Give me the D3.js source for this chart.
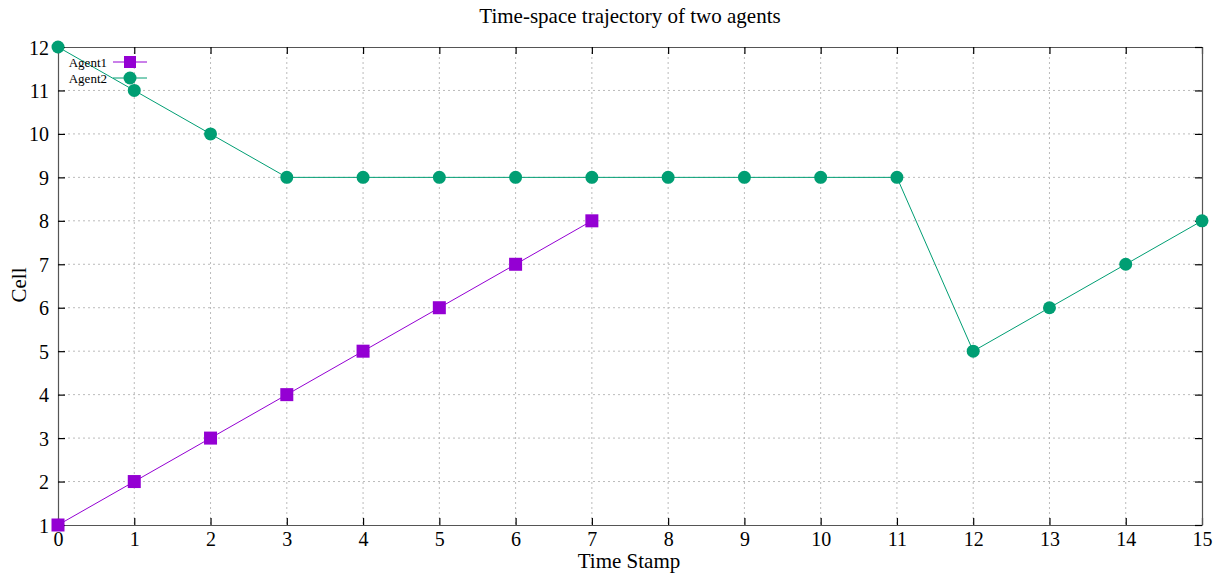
<!DOCTYPE html>
<html>
<head>
<meta charset="utf-8">
<script src="https://cdn.jsdelivr.net/npm/d3@7"></script>
<style>
body { margin: 0; background: #fff; }
text { font-family: "Liberation Serif", "Times New Roman", serif; fill: #000; }
</style>
</head>
<body>
<svg id="chart" width="1225" height="574"></svg>
<script>
// time-space trajectory data
var timeStamps = [0, 1, 2, 3, 4, 5, 6, 7, 8, 9, 10, 11, 12, 13, 14, 15];
var agent1Cells = [1, 2, 3, 4, 5, 6, 7, 8];
var agent2Cells = [12, 11, 10, 9, 9, 9, 9, 9, 9, 9, 9, 9, 5, 6, 7, 8];
var xTicks = [0, 1, 2, 3, 4, 5, 6, 7, 8, 9, 10, 11, 12, 13, 14, 15];
var yTicks = [1, 2, 3, 4, 5, 6, 7, 8, 9, 10, 11, 12];

var svg = d3.select("#chart"),
    margin = { top: 47, right: 23, bottom: 49, left: 58 },
    width = +svg.attr("width") - margin.left - margin.right,
    height = +svg.attr("height") - margin.top - margin.bottom;

var g = svg.append("g").attr("transform", "translate(" + margin.left + "," + margin.top + ")");

var x = d3.scaleLinear().domain([0, 15]).range([0, width]);
var y = d3.scaleLinear().domain([1, 12]).range([height, 0]);

// grid
g.selectAll(".vgrid").data(xTicks.slice(1, -1)).enter().append("line")
    .attr("x1", function (d) { return x(d); }).attr("x2", function (d) { return x(d); })
    .attr("y1", 0).attr("y2", height)
    .attr("stroke", "#bbb").attr("stroke-width", 1).attr("stroke-dasharray", "2,3");
g.selectAll(".hgrid").data(yTicks.slice(1, -1)).enter().append("line")
    .attr("x1", 0).attr("x2", width)
    .attr("y1", function (d) { return y(d); }).attr("y2", function (d) { return y(d); })
    .attr("stroke", "#bbb").attr("stroke-width", 1).attr("stroke-dasharray", "2,3");

// axes: ticks point inward, mirrored on top/right
var xAxis = g.append("g").attr("transform", "translate(0," + height + ")")
    .call(d3.axisBottom(x).tickValues(xTicks).tickSizeInner(-7).tickSizeOuter(0).tickPadding(14));
var xTop = g.append("g")
    .call(d3.axisTop(x).tickValues(xTicks).tickSizeInner(-7).tickSizeOuter(0).tickFormat(""));
var yAxis = g.append("g")
    .call(d3.axisLeft(y).tickValues(yTicks).tickSizeInner(-7).tickSizeOuter(0).tickPadding(9));
var yRight = g.append("g").attr("transform", "translate(" + width + ",0)")
    .call(d3.axisRight(y).tickValues(yTicks).tickSizeInner(-7).tickSizeOuter(0).tickFormat(""));

[xAxis, xTop, yAxis, yRight].forEach(function (a) {
    a.select(".domain").attr("stroke", "#555").attr("stroke-width", 1.2);
    a.selectAll(".tick line").attr("stroke", "#000").attr("stroke-width", 1.2);
    a.selectAll("text").style("font-size", "20px").style("font-family", "Liberation Serif, serif");
});
yAxis.selectAll("text").attr("dy", "0.35em");
xAxis.selectAll("text").attr("dy", "0.35em");

var line = d3.line()
    .x(function (d, i) { return x(timeStamps[i]); })
    .y(function (d) { return y(d); });

var purple = "#9400d3", green = "#009e73";

// agent 2
g.append("path").datum(agent2Cells).attr("d", line)
    .attr("fill", "none").attr("stroke", green).attr("stroke-width", 1);
g.selectAll(".pt2").data(agent2Cells).enter().append("circle")
    .attr("cx", function (d, i) { return x(timeStamps[i]); })
    .attr("cy", function (d) { return y(d); })
    .attr("r", 6.5).attr("fill", green);

// agent 1
g.append("path").datum(agent1Cells).attr("d", line)
    .attr("fill", "none").attr("stroke", purple).attr("stroke-width", 1);
g.selectAll(".pt1").data(agent1Cells).enter().append("rect")
    .attr("x", function (d, i) { return x(timeStamps[i]) - 6.5; })
    .attr("y", function (d) { return y(d) - 6.5; })
    .attr("width", 13).attr("height", 13).attr("fill", purple);

// legend
var legend = svg.append("g");
var legendItems = [
    { name: "Agent1", color: purple, shape: "square" },
    { name: "Agent2", color: green, shape: "circle" }
];
legendItems.forEach(function (d, i) {
    var ly = 62 + i * 16;
    legend.append("text").attr("x", 107).attr("y", ly).attr("dy", "0.35em")
        .attr("text-anchor", "end").style("font-size", "13px").text(d.name);
    legend.append("line").attr("x1", 113).attr("x2", 147).attr("y1", ly).attr("y2", ly)
        .attr("stroke", d.color).attr("stroke-width", 1);
    if (d.shape === "square") {
        legend.append("rect").attr("x", 124).attr("y", ly - 6).attr("width", 12).attr("height", 12).attr("fill", d.color);
    } else {
        legend.append("circle").attr("cx", 130).attr("cy", ly).attr("r", 6.5).attr("fill", d.color);
    }
});

// titles
svg.append("text").attr("x", 630).attr("y", 23).attr("text-anchor", "middle")
    .style("font-size", "21px").text("Time-space trajectory of two agents");
svg.append("text").attr("x", 629).attr("y", 568).attr("text-anchor", "middle")
    .style("font-size", "21px").text("Time Stamp");
svg.append("text").attr("transform", "translate(26,285) rotate(-90)").attr("text-anchor", "middle")
    .style("font-size", "21px").text("Cell");
</script>
</body>
</html>
